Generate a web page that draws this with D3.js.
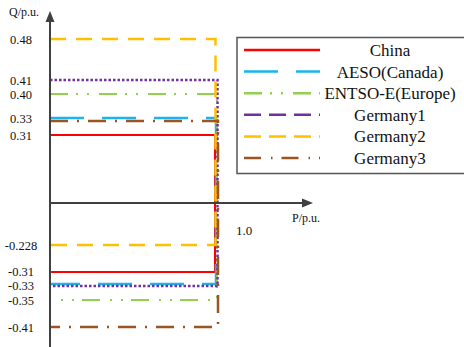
<html>
<head>
<script src="https://d3js.org/d3.v7.min.js"></script>
<style>
  body { margin: 0; background: #fff; }
  text { font-family: "Liberation Serif", "Times New Roman", serif; fill: #111; }
</style>
</head>
<body>
<svg width="464" height="347"></svg>
<script>
// series, in legend order
const names = ['China', 'AESO(Canada)', 'ENTSO-E(Europe)', 'Germany1', 'Germany2', 'Germany3'];
const qUp   = [0.31, 0.33, 0.40, 0.41, 0.48, 0.33];
const qDown = [-0.31, -0.33, -0.35, -0.33, -0.228, -0.41];
const pMax  = [1.0, 1.0, 1.0, 1.0, 1.0, 1.0];

const tickValues = [0.48, 0.41, 0.40, 0.33, 0.31, -0.228, -0.31, -0.33, -0.35, -0.41];
const tickLabels = ['0.48', '0.41', '0.40', '0.33', '0.31', '-0.228', '-0.31', '-0.33', '-0.35', '-0.41'];

// drawing styles per series
const colors = ['#ff0000', '#1ab4ee', '#92d050', '#7030a0', '#ffc000', '#9b5422'];
const dashPlot = ['none', '34,18', '18,8,2,9,2,10', '2.5,2', '16,10', '18,9,2,9'];
const dashLegend = ['none', '34,18', '18,8,2,9,2,10', '17,8', '17,8', '17,10,1.5,9'];
const widths = [2, 2.5, 2, 2.5, 2.5, 2.5];
const nudgeX = [0, 1, 2, 2.5, 0.5, 3];      // keep overlapping verticals visible
const nudgeUp = [0, 0, 0, 0, 0, 3];
const nudgeDown = [0, 0, 0, 2, 0, 0];

const svg = d3.select('svg');

// the original is a schematic: Q axis is not proportional
const y = d3.scaleLinear()
  .domain([-0.41, -0.35, -0.33, -0.31, -0.228, 0, 0.31, 0.33, 0.40, 0.41, 0.48])
  .range([327, 300, 284, 272, 245, 203, 135, 118, 94, 80, 39]);
const x = d3.scaleLinear().domain([0, 1]).range([50, 215]);

// series outlines
const g = svg.append('g');
names.forEach((n, i) => {
  const x0 = x(0), x1 = x(pMax[i]) + nudgeX[i];
  const yu = y(qUp[i]) + nudgeUp[i], yd = y(qDown[i]) + nudgeDown[i];
  g.append('path')
    .attr('d', `M${x0},${yu}H${x1}V${yd}H${x0}`)
    .attr('fill', 'none')
    .attr('stroke', colors[i])
    .attr('stroke-width', widths[i])
    .attr('stroke-dasharray', dashPlot[i]);
});

// axes with arrows
const axisColor = '#404040';
svg.append('line')
  .attr('x1', x(0)).attr('y1', 347).attr('x2', x(0)).attr('y2', 20)
  .attr('stroke', axisColor).attr('stroke-width', 2);
svg.append('path')
  .attr('d', `M${x(0) - 4.5},22L${x(0)},11L${x(0) + 4.5},22Z`)
  .attr('fill', axisColor);
svg.append('line')
  .attr('x1', x(0)).attr('y1', y(0)).attr('x2', 304).attr('y2', y(0))
  .attr('stroke', axisColor).attr('stroke-width', 2);
svg.append('path')
  .attr('d', `M302,${y(0) - 4.5}L313,${y(0)}L302,${y(0) + 4.5}Z`)
  .attr('fill', axisColor);

// tick labels
const ax = svg.append('g')
  .attr('transform', `translate(${x(0)},0)`)
  .call(d3.axisLeft(y).tickValues(tickValues).tickSize(0)
    .tickFormat((d, i) => tickLabels[i]));
ax.select('.domain').remove();
ax.selectAll('text')
  .attr('x', -29).attr('text-anchor', 'middle')
  .attr('dy', d => d == -0.33 ? '0.45em' : d == -0.31 ? '0.28em' : '0.35em')
  .attr('font-size', 12.5).attr('fill', '#111')
  .style('font-family', '"Liberation Serif", serif');

svg.append('text').attr('x', 9).attr('y', 16).attr('font-size', 12).text('Q/p.u.');
svg.append('text').attr('x', 292).attr('y', 222).attr('font-size', 12).text('P/p.u.');
svg.append('text').attr('x', 236).attr('y', 235).attr('font-size', 13).text('1.0');

// legend
const leg = svg.append('g');
leg.append('rect')
  .attr('x', 237).attr('y', 37.5).attr('width', 240).attr('height', 136)
  .attr('fill', '#fff').attr('stroke', '#555').attr('stroke-width', 1.5);
const ly = d3.scalePoint().domain(names).range([50, 158]);
names.forEach((n, i) => {
  leg.append('line')
    .attr('x1', 244).attr('x2', 320).attr('y1', ly(n)).attr('y2', ly(n))
    .attr('stroke', colors[i]).attr('stroke-width', 2.5)
    .attr('stroke-dasharray', dashLegend[i]);
  leg.append('text')
    .attr('x', 390).attr('y', ly(n)).attr('dy', '0.35em')
    .attr('text-anchor', 'middle').attr('font-size', 17)
    .text(n);
});
</script>
</body>
</html>
